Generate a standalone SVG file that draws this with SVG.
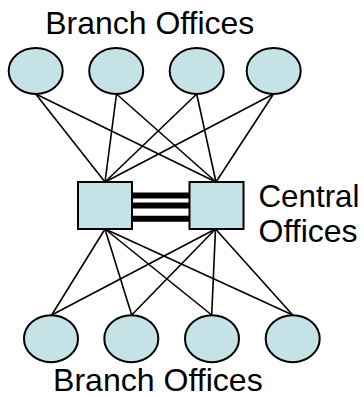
<svg xmlns="http://www.w3.org/2000/svg" width="364" height="397" viewBox="0 0 364 397">
  <style>
    .office { fill: #c5e3e7; stroke: #000; stroke-width: 2; }
    .link { stroke: #000; stroke-width: 1.6; fill: none; }
    .trunk { stroke: #000; stroke-width: 6; }
    .label { font-family: "Liberation Sans", Arial, sans-serif; font-size: 30.5px; fill: #000; }
  </style>
  <rect width="364" height="397" fill="#fff"/>

  <!-- links between branch offices and the two central offices -->
  <g id="connectors">
    <g class="link">
      <!-- upper branches to central offices -->
      <line x1="35.7" y1="94" x2="105" y2="182"/>
      <line x1="35.7" y1="94" x2="216" y2="182"/>
      <line x1="116.5" y1="94" x2="105" y2="182"/>
      <line x1="116.5" y1="94" x2="216" y2="182"/>
      <line x1="196.7" y1="94" x2="105" y2="182"/>
      <line x1="196.7" y1="94" x2="216" y2="182"/>
      <line x1="273.5" y1="94" x2="105" y2="182"/>
      <line x1="273.5" y1="94" x2="216" y2="182"/>
      <!-- central offices to lower branches -->
      <line x1="105" y1="229" x2="51.7" y2="315"/>
      <line x1="105" y1="229" x2="131.7" y2="315"/>
      <line x1="105" y1="229" x2="211.7" y2="315"/>
      <line x1="105" y1="229" x2="292.7" y2="315"/>
      <line x1="215.5" y1="229" x2="51.7" y2="315"/>
      <line x1="215.5" y1="229" x2="131.7" y2="315"/>
      <line x1="215.5" y1="229" x2="211.7" y2="315"/>
      <line x1="215.5" y1="229" x2="292.7" y2="315"/>
    </g>
    <!-- trunk between the central offices -->
    <g class="trunk">
      <line x1="132" y1="195.5" x2="189" y2="195.5"/>
      <line x1="132" y1="205.5" x2="189" y2="205.5"/>
      <line x1="132" y1="218.7" x2="189" y2="218.7"/>
    </g>
  </g>

  <!-- upper branch offices -->
  <g id="branch-top-1"><ellipse class="office" cx="35.7" cy="71" rx="27" ry="23"/></g>
  <g id="branch-top-2"><ellipse class="office" cx="116.2" cy="71" rx="27" ry="23"/></g>
  <g id="branch-top-3"><ellipse class="office" cx="196.7" cy="71" rx="27" ry="23"/></g>
  <g id="branch-top-4"><ellipse class="office" cx="273.7" cy="71" rx="27" ry="23"/></g>

  <!-- central offices -->
  <g id="central-left"><rect class="office" x="78" y="182" width="54" height="47"/></g>
  <g id="central-right"><rect class="office" x="189.5" y="182" width="54" height="47"/></g>

  <!-- lower branch offices -->
  <g id="branch-bottom-1"><ellipse class="office" cx="51" cy="338.7" rx="27" ry="23.5"/></g>
  <g id="branch-bottom-2"><ellipse class="office" cx="131.3" cy="338.7" rx="27" ry="23.5"/></g>
  <g id="branch-bottom-3"><ellipse class="office" cx="212" cy="338.7" rx="27" ry="23.5"/></g>
  <g id="branch-bottom-4"><ellipse class="office" cx="292.7" cy="338.7" rx="27" ry="23.5"/></g>

  <!-- labels -->
  <g id="labels">
    <text class="label" x="45.3" y="33.5" textLength="209" lengthAdjust="spacingAndGlyphs">Branch Offices</text>
    <text class="label" x="258.5" y="207" textLength="101" lengthAdjust="spacingAndGlyphs">Central</text>
    <text class="label" x="258.6" y="241.5" textLength="99" lengthAdjust="spacingAndGlyphs">Offices</text>
    <text class="label" x="53" y="390.5" textLength="209.7" lengthAdjust="spacingAndGlyphs">Branch Offices</text>
  </g>
</svg>
